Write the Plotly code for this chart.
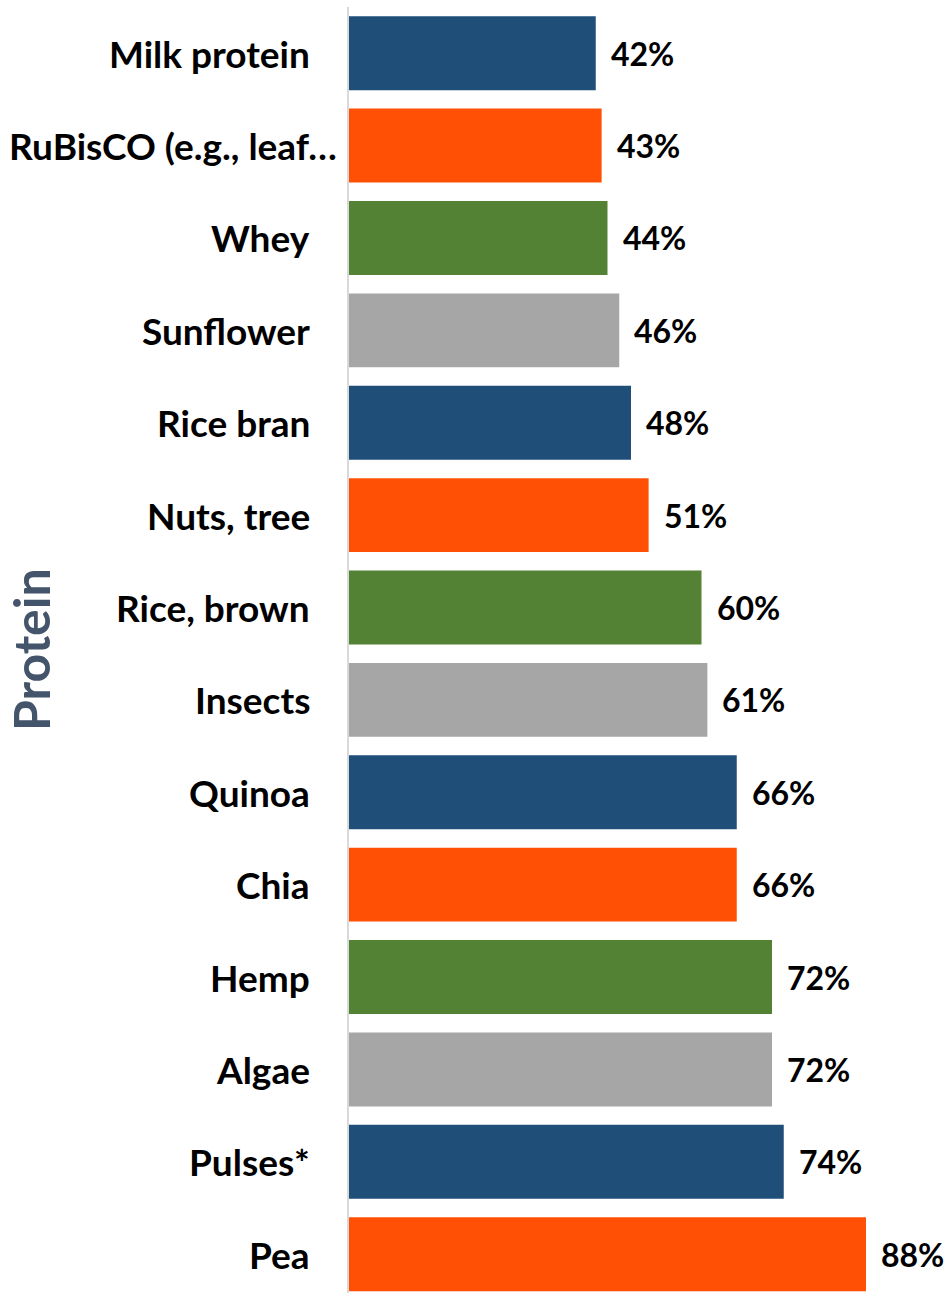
import plotly.graph_objects as go

categories = ["Milk protein", "RuBisCO (e.g., leaf…", "Whey", "Sunflower", "Rice bran",
              "Nuts, tree", "Rice, brown", "Insects", "Quinoa", "Chia", "Hemp", "Algae",
              "Pulses*", "Pea"]
values = [42, 43, 44, 46, 48, 51, 60, 61, 66, 66, 72, 72, 74, 88]
palette = ["#1F4E79", "#FF5005", "#548235", "#A6A6A6"]
colors = [palette[i % 4] for i in range(len(values))]
axis_title = "Protein"

FONT = "Lato"
W, H = 951, 1293
left, right_m, top_m, bot_m = 349, 0, 7, 0
plot_w = W - left - right_m
px_per_pct = 5.875
xmax = plot_w / px_per_pct

fig = go.Figure(go.Bar(
    x=values, y=categories, orientation="h",
    marker=dict(color=colors, line=dict(width=0)),
    hoverinfo="skip",
))

annotations = []
for v, c in zip(values, categories):
    annotations.append(dict(x=v, y=c, xref="x", yref="y", text=f"{v}%", showarrow=False,
                            xanchor="left", yanchor="middle", xshift=13,
                            font=dict(family=FONT, size=32, color="#000000", weight="bold")))
    annotations.append(dict(x=0, y=c, xref="x", yref="y", text=c, showarrow=False,
                            xanchor="right", yanchor="middle",
                            xshift=-10 if c.endswith("…") else -37,
                            font=dict(family=FONT, size=37, color="#000000", weight="bold")))
annotations.append(dict(x=-(left - 31) / plot_w, y=0.5, xref="paper", yref="paper",
                        text=axis_title, textangle=-90, showarrow=False,
                        xanchor="center", yanchor="middle",
                        font=dict(family=FONT, size=50, color="#44546A", weight="bold")))

fig.update_layout(
    width=W, height=H,
    margin=dict(l=left, r=right_m, t=top_m, b=bot_m, pad=0, autoexpand=False),
    plot_bgcolor="white", paper_bgcolor="white",
    bargap=0.2, showlegend=False,
    font=dict(family=FONT, size=28, color="#000000"),
    xaxis=dict(range=[0, xmax], visible=False, fixedrange=True, automargin=False),
    yaxis=dict(type="category", categoryorder="array", categoryarray=categories,
               range=[13.42, -0.5], showline=True, linecolor="#D9D9D9", linewidth=2,
               showgrid=False, zeroline=False, ticks="", showticklabels=False,
               automargin=False, fixedrange=True),
    annotations=annotations,
)

fig.write_html("out.html", config={"displayModeBar": False},
               post_script="document.body.style.margin='0';document.body.style.overflow='hidden';")
